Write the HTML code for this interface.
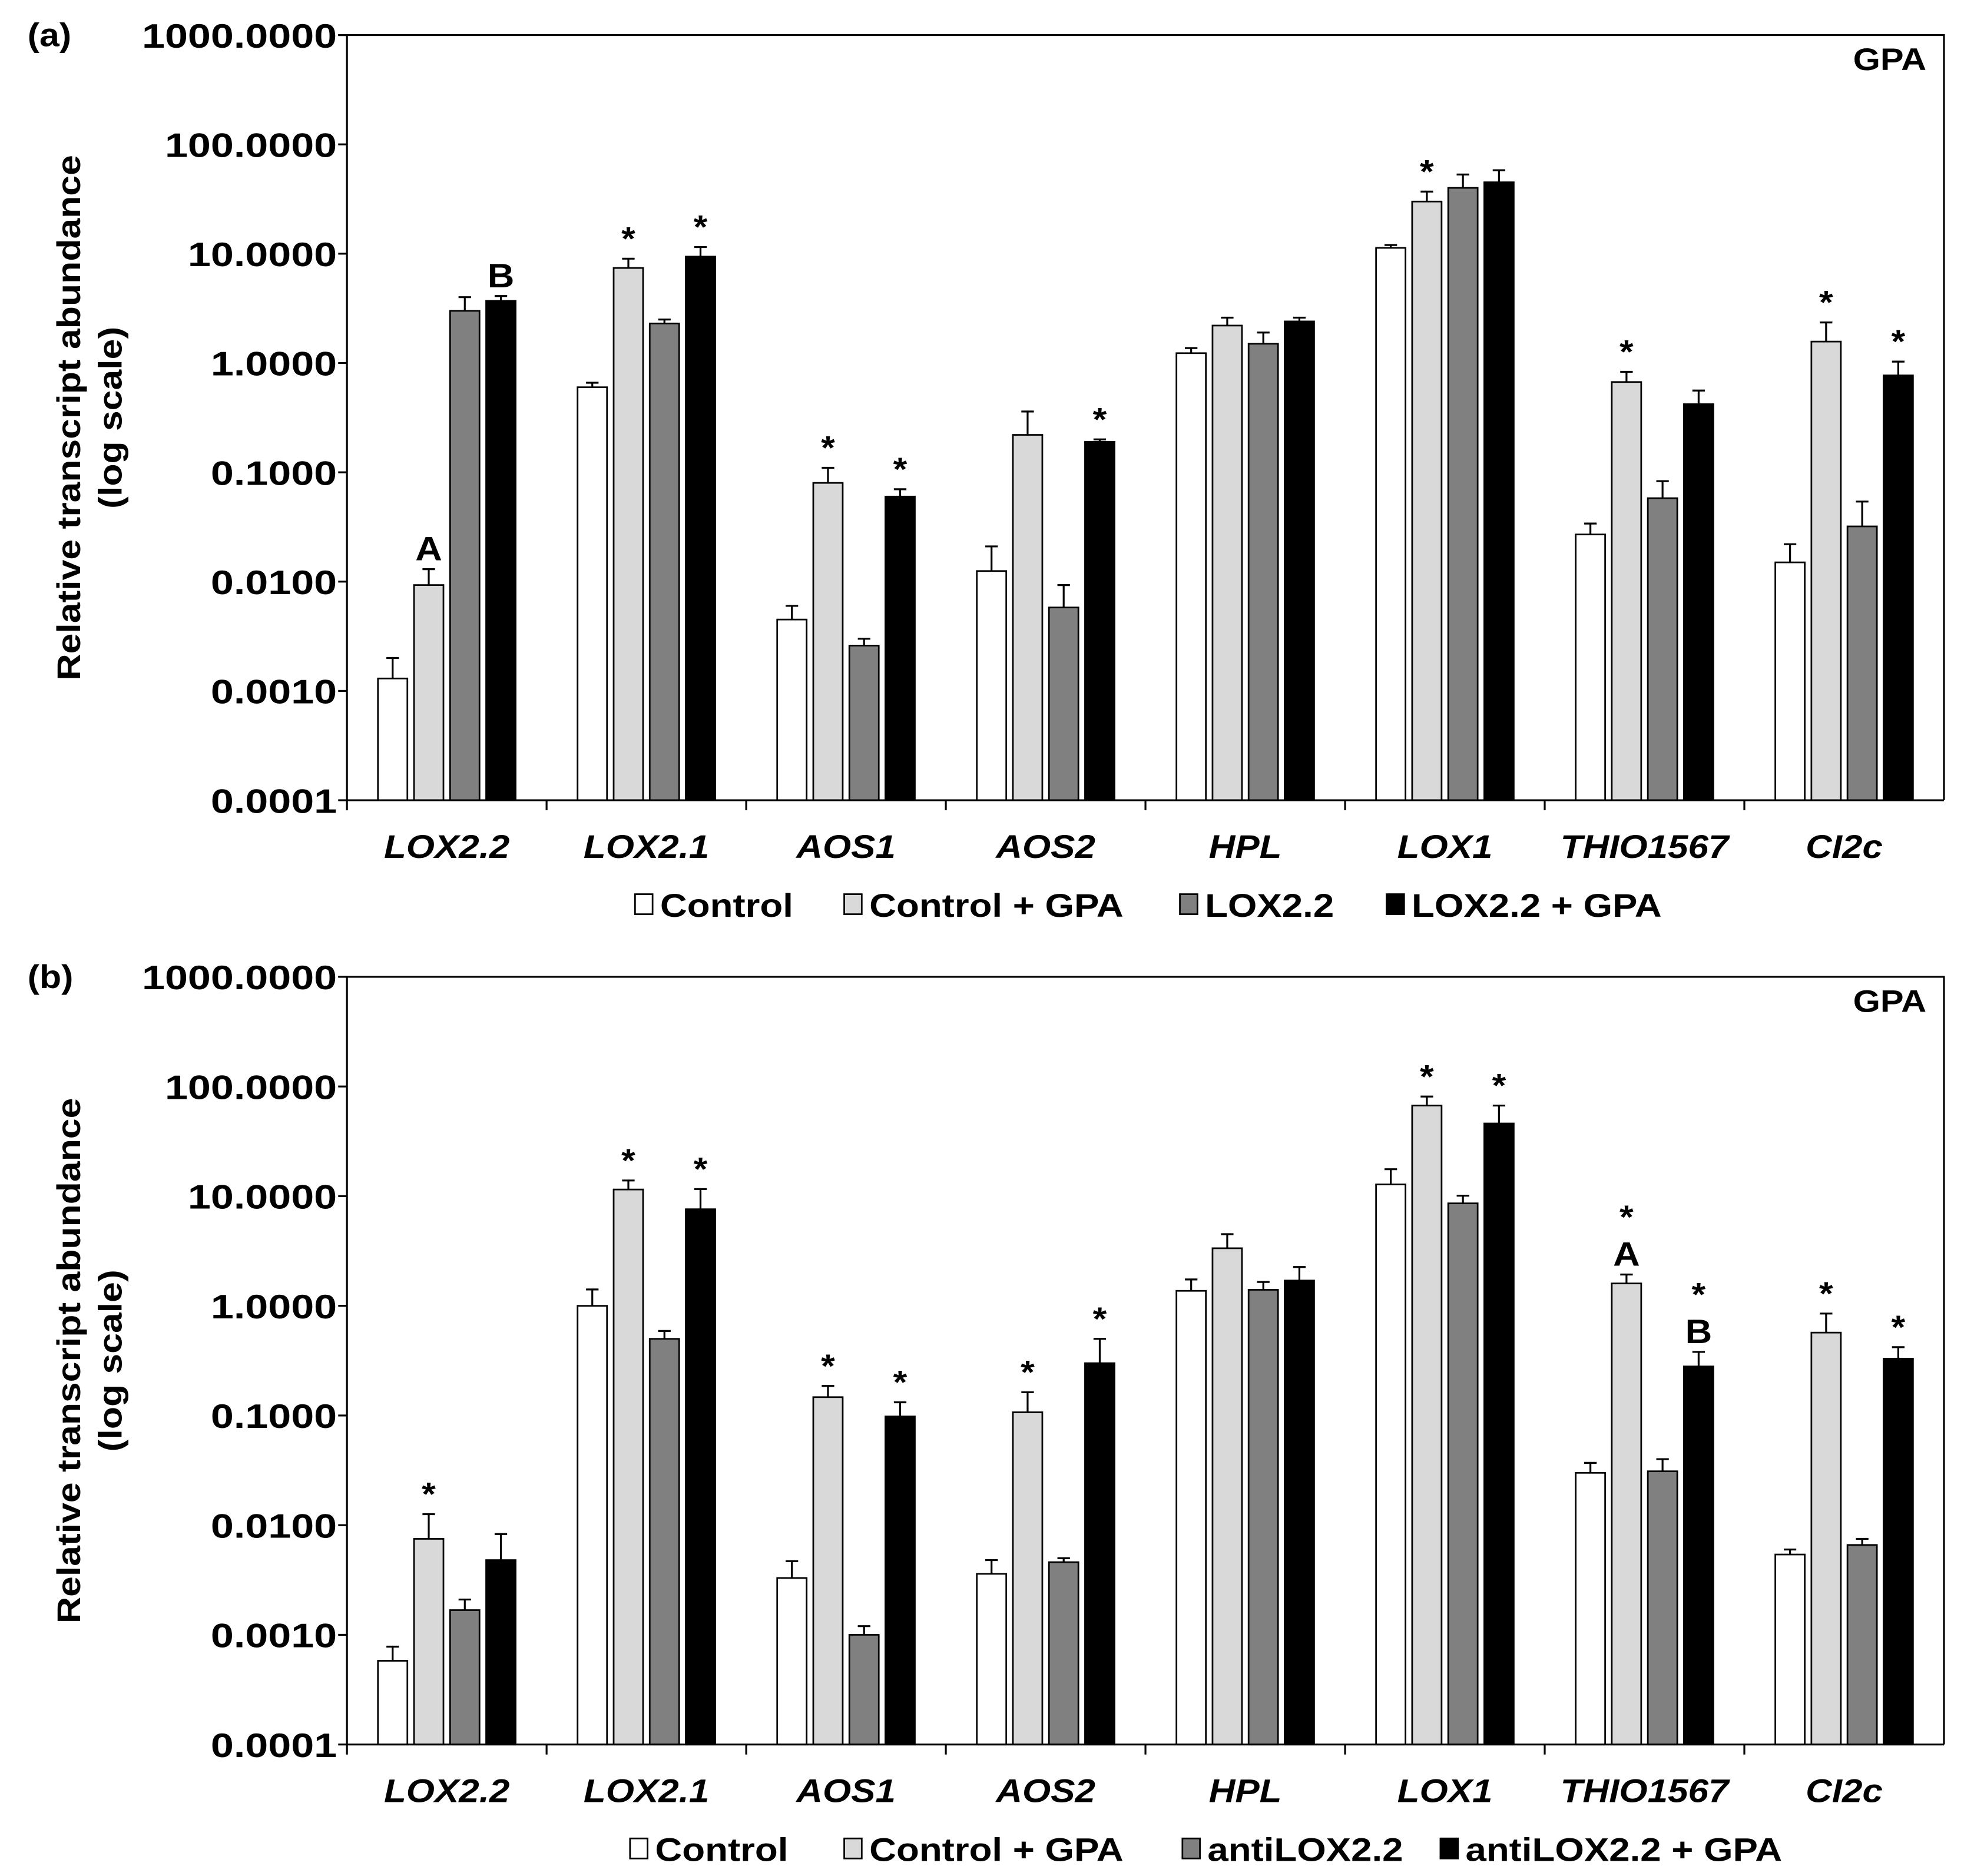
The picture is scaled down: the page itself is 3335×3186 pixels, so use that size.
<!DOCTYPE html>
<html><head><meta charset="utf-8"><style>
html,body{margin:0;padding:0;background:#fff;}
svg{display:block;}
text{font-family:"Liberation Sans",Arial,sans-serif;font-weight:bold;fill:#000;}
</style></head><body>
<svg id="fig" xmlns="http://www.w3.org/2000/svg" width="3335" height="3186" viewBox="0 0 1568 1498" preserveAspectRatio="none"></svg>
<script>
const categories = ['LOX2.2','LOX2.1','AOS1','AOS2','HPL','LOX1','THIO1567','CI2c'];
const tickValues = [1000,100,10,1,0.1,0.01,0.001,0.0001];
const tickLabels = ['1000.0000','100.0000','10.0000','1.0000','0.1000','0.0100','0.0010','0.0001'];
const seriesFills = ['#ffffff','#d9d9d9','#808080','#000000'];
const aSeriesNames = ['Control','Control + GPA','LOX2.2','LOX2.2 + GPA'];
const bSeriesNames = ['Control','Control + GPA','antiLOX2.2','antiLOX2.2 + GPA'];

const aControl    = [0.0013,0.6,0.0045,0.0125,1.23,11.3,0.027,0.015];
const aControlGPA = [0.0093,7.4,0.08,0.22,2.2,30,0.67,1.57];
const aLox        = [3.0,2.3,0.0026,0.0058,1.5,40,0.058,0.032];
const aLoxGPA     = [3.7,9.4,0.06,0.19,2.4,45,0.42,0.77];
const aControlErr    = [0.002,0.66,0.006,0.021,1.37,12,0.034,0.022];
const aControlGPAErr = [0.013,9.0,0.11,0.36,2.6,37,0.83,2.35];
const aLoxErr        = [4.0,2.5,0.003,0.0093,1.9,53,0.083,0.054];
const aLoxGPAErr     = [4.1,11.5,0.07,0.2,2.6,58,0.56,1.03];

const bControl    = [0.00058,1.0,0.0033,0.0036,1.37,12.8,0.03,0.0054];
const bControlGPA = [0.0075,11.5,0.147,0.107,3.35,67,1.6,0.57];
const bAnti       = [0.00168,0.5,0.001,0.0046,1.4,8.6,0.031,0.0066];
const bAntiGPA    = [0.0048,7.6,0.098,0.3,1.7,46,0.28,0.33];
const bControlErr    = [0.00078,1.41,0.0047,0.0048,1.74,17.6,0.037,0.006];
const bControlGPAErr = [0.0126,13.9,0.186,0.163,4.5,81,1.93,0.85];
const bAntiErr       = [0.0021,0.59,0.0012,0.005,1.65,10.1,0.04,0.0075];
const bAntiGPAErr    = [0.0083,11.6,0.132,0.5,2.26,67,0.38,0.42];

// annotations: [category index, series index, labels bottom-up]
const aAnnot = [[0,1,['A']],[0,3,['B']],[1,1,['*']],[1,3,['*']],[2,1,['*']],[2,3,['*']],[3,3,['*']],[5,1,['*']],[6,1,['*']],[7,1,['*']],[7,3,['*']]];
const bAnnot = [[0,1,['*']],[1,1,['*']],[1,3,['*']],[2,1,['*']],[2,3,['*']],[3,1,['*']],[3,3,['*']],[5,1,['*']],[5,3,['*']],[6,1,['A','*']],[6,3,['B','*']],[7,1,['*']],[7,3,['*']]];

const NS='http://www.w3.org/2000/svg';
const svg=document.getElementById('fig');
function mk(tag,attrs,parent){const e=document.createElementNS(NS,tag);for(const k in attrs)e.setAttribute(k,attrs[k]);(parent||svg).appendChild(e);return e;}
function txt(x,y,s,size,anchor,sx,parent,italic,rot){
  const e=mk('text',{x:0,y:0,'font-size':size,'text-anchor':anchor||'start',transform:'translate('+x+','+y+')'+(rot?' rotate('+rot+')':'')+' scale('+(sx||1)+',1)'},parent);
  if(italic)e.setAttribute('font-style','italic');
  e.textContent=s;return e;}

const plotL=277, plotR=1552, catW=(plotR-plotL)/categories.length;
const barPitch=28.8, barW=23.5;

function drawPanel(cfg){
  const g=mk('g',{});
  
  
  const dec=(cfg.bottom-cfg.top)/7;
  const yScale=v=>cfg.bottom-(Math.log10(v)+4)*dec;
  const xCenter=i=>plotL+catW*(i+0.5);
  const barX=(i,s)=>xCenter(i)+(s-1.5)*barPitch;
  cfg.series.forEach((vals,s)=>{
    vals.forEach((v,i)=>{
      const y=yScale(v);
      const r=mk('rect',{x:barX(i,s)-barW/2,y:y,width:barW,height:cfg.bottom-y,fill:seriesFills[s],stroke:'#000','stroke-width':1.3},g);
      
      
      const ey=yScale(cfg.errs[s][i]);
      const eb=mk('path',{d:'M'+barX(i,s)+','+y+'V'+ey+'M'+(barX(i,s)-5)+','+ey+'H'+(barX(i,s)+5),stroke:'#000','stroke-width':1.5,fill:'none'},g);
      
      
    });
  });
  cfg.annot.forEach(a=>{
    const [i,s,labels]=a;
    let y=yScale(cfg.errs[s][i])-4;
    labels.forEach(l=>{
      if(l==='*'){const t=txt(barX(i,s),y-3,'*',26,'middle',1.1,g);y-=32;}
      else{const t=txt(barX(i,s),y-3,l,27,'middle',1.1,g);y-=30;}
    });
  });
  const ax=mk('path',{d:'M'+plotL+','+cfg.top+'V'+(cfg.bottom+8)+'M'+plotL+','+cfg.bottom+'H'+plotR+'M'+(plotL-7)+','+cfg.top+'H'+plotR+'V'+cfg.bottom,stroke:'#000','stroke-width':1.5,fill:'none'},g);
  
  
  tickValues.forEach((v,k)=>{
    const y=yScale(v);
    mk('line',{x1:plotL-7,x2:plotL,y1:y,y2:y,stroke:'#000','stroke-width':1.5},g);
    const t=txt(269,y+10,tickLabels[k],27,'end',1.22,g);
    
    
  });
  categories.forEach((c,i)=>{
    const xb=plotL+catW*(i+1);
    if(i<categories.length-1) mk('line',{x1:xb,x2:xb,y1:cfg.bottom,y2:cfg.bottom+8,stroke:'#000','stroke-width':1.5},g);
    const t=txt(xCenter(i),cfg.bottom+46,c,26,'middle',1.12,g,true);
    
    
  });
  const tt1=txt(64,(cfg.top+cfg.bottom)/2,'Relative transcript abundance',26,'middle',1.13,g,false,-90);
  
  
  const tt2=txt(97,(cfg.top+cfg.bottom)/2,'(log scale)',26,'middle',1.13,g,false,-90);
  
  
  const pl=txt(22,cfg.top+9,cfg.label,26,'start',1.1,g);
  
  
  const gp=txt(1538,cfg.top+28,'GPA',25,'end',1.12,g);
  
  
  const ly=cfg.bottom+83;
  cfg.legend.forEach((n,s)=>{
    const lg=mk('g',{},g);
    
    
    mk('rect',{x:cfg.legX[s],y:ly-8,width:14,height:16,fill:seriesFills[s],stroke:'#000','stroke-width':1.3},lg);
    txt(cfg.legX[s]+20,ly+10,n,26,'start',1.15,lg);
  });
}
drawPanel({name:'panel-a',label:'(a)',top:28,bottom:639,series:[aControl,aControlGPA,aLox,aLoxGPA],errs:[aControlErr,aControlGPAErr,aLoxErr,aLoxGPAErr],annot:aAnnot,legend:aSeriesNames,legX:[507,674,942,1107]});
drawPanel({name:'panel-b',label:'(b)',top:780,bottom:1393,series:[bControl,bControlGPA,bAnti,bAntiGPA],errs:[bControlErr,bControlGPAErr,bAntiErr,bAntiGPAErr],annot:bAnnot,legend:bSeriesNames,legX:[503,674,944,1150]});
</script>
</body></html>
